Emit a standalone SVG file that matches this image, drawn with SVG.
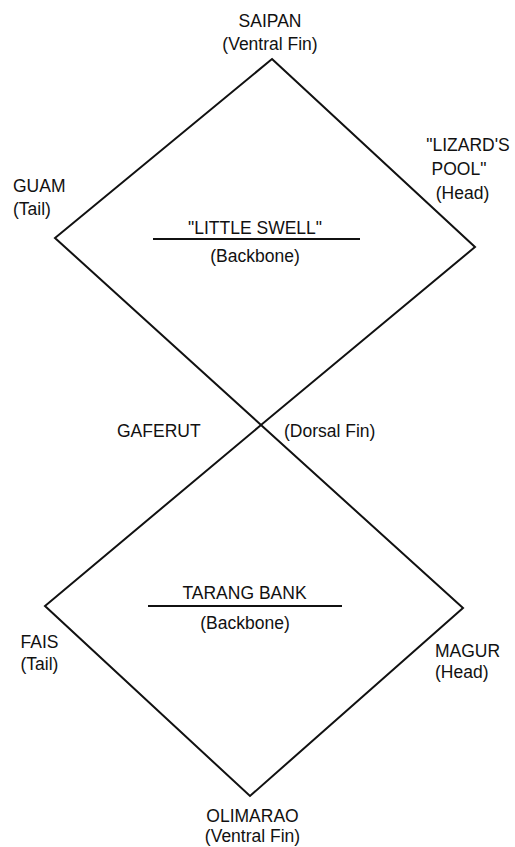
<svg xmlns="http://www.w3.org/2000/svg" width="515" height="847" viewBox="0 0 515 847">
<style>
text{font-family:"Liberation Sans",Arial,sans-serif;font-size:17.5px;fill:#111;}
.c{text-anchor:middle;}
.ln{fill:none;stroke:#111;stroke-width:2;stroke-linejoin:miter;}
</style>
<rect width="515" height="847" fill="#fff"/>
<g id="connectors">
<polygon class="ln" points="272,59 475,247 261,425 55,238"/>
<polygon class="ln" points="261,425 463,608 250,796 45,606"/>
<line class="ln" x1="153" y1="239" x2="360" y2="239"/>
<line class="ln" x1="148" y1="606" x2="342" y2="606"/>
</g>
<g id="saipan"><text class="c" x="270" y="27">SAIPAN</text><text class="c" x="270" y="50">(Ventral Fin)</text></g>
<g id="guam"><text x="13" y="191.5">GUAM</text><text x="13" y="214.5">(Tail)</text></g>
<g id="lizards-pool"><text class="c" x="468" y="150.5">"LIZARD'S</text><text class="c" x="459" y="175">POOL"</text><text class="c" x="462.5" y="199">(Head)</text></g>
<g id="little-swell"><text class="c" x="255" y="234">"LITTLE SWELL"</text><text class="c" x="255" y="262">(Backbone)</text></g>
<g id="gaferut"><text x="117" y="436.5">GAFERUT</text><text x="284" y="436.5">(Dorsal Fin)</text></g>
<g id="tarang-bank"><text class="c" x="244.5" y="599">TARANG BANK</text><text class="c" x="245" y="629">(Backbone)</text></g>
<g id="fais"><text x="20.5" y="648">FAIS</text><text x="20.5" y="670">(Tail)</text></g>
<g id="magur"><text x="435" y="656.5">MAGUR</text><text x="435" y="678">(Head)</text></g>
<g id="olimarao"><text class="c" x="252.5" y="821.5">OLIMARAO</text><text class="c" x="252.5" y="841.5">(Ventral Fin)</text></g>
</svg>
